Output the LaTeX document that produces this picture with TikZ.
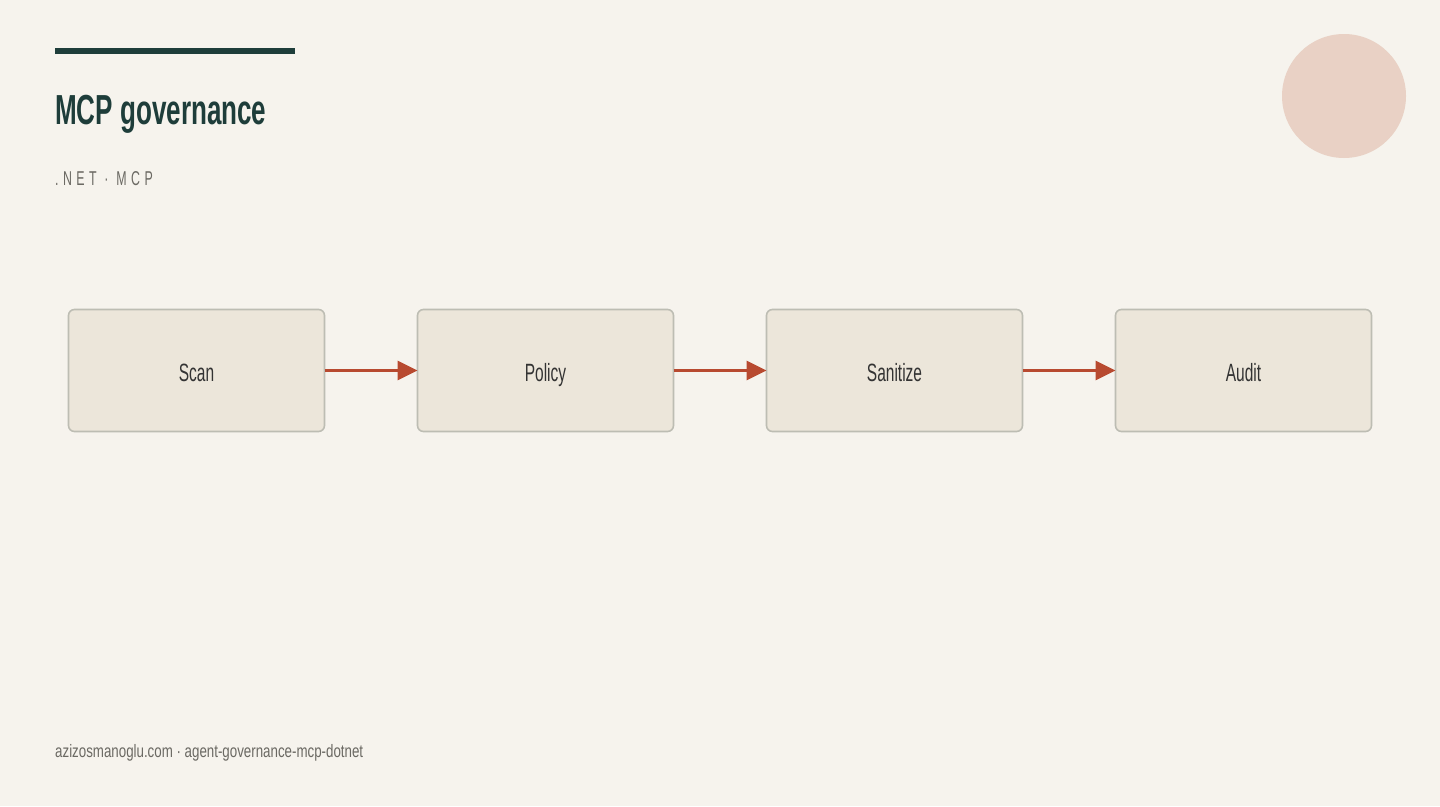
\documentclass[tikz,border=0pt]{standalone}
\usepackage{fontspec}
\usetikzlibrary{positioning,arrows.meta}
\setmainfont[FakeStretch=0.62]{Liberation Sans}
\newfontfamily\footfont[FakeStretch=0.74]{Liberation Sans}

\definecolor{paper}{HTML}{F6F3ED}
\definecolor{pine}{HTML}{1E3D3A}
\definecolor{stone}{HTML}{6B6963}
\definecolor{blush}{HTML}{E9D1C5}
\definecolor{boxfill}{HTML}{ECE6DA}
\definecolor{boxline}{HTML}{BDBDB3}
\definecolor{rust}{HTML}{B84A30}

\tikzset{
	stage/.style={draw=boxline, fill=boxfill, line width=1.6pt, rounded corners=6pt,
		minimum width=256pt, minimum height=122pt, inner sep=0pt, outer sep=0pt,
		text height=22pt, text depth=0pt,
		text=black!80, font=\fontsize{25}{25}\selectfont},
	flow/.style={draw=rust, line width=3pt, -{Triangle[length=20pt,width=19pt]}}
}

\begin{document}
\begin{tikzpicture}[x=1pt,y=-1pt]

	% Page
	\fill[paper] (0,0) rectangle (1440,806);
	\useasboundingbox (0,0) rectangle (1440,806);

	% Top bar
	\fill[pine] (55,48) rectangle (295,54);

	% Corner circle
	\fill[blush] (1344,96) circle (62);

	% Title and subtitle
	\node[anchor=base west, inner sep=0pt, text=pine, font=\bfseries\fontsize{42}{42}\selectfont] (title) at (55,124) {MCP governance};
	\node[anchor=base west, inner sep=0pt, text=stone, font=\fontsize{20}{20}\selectfont\addfontfeature{LetterSpace=22}] (sub) at (55,185) {.NET · MCP};

	% Stages
	\node[stage] (scan) at (196.5,370.5) {Scan};
	\node[stage, right=93pt of scan] (policy) {Policy};
	\node[stage, right=93pt of policy] (sanitize) {Sanitize};
	\node[stage, right=93pt of sanitize] (audit) {Audit};

	% Arrows
	\draw[flow] (scan) -- (policy);
	\draw[flow] (policy) -- (sanitize);
	\draw[flow] (sanitize) -- (audit);

	% Footer
	\node[anchor=base west, inner sep=0pt, text=stone, font=\footfont\fontsize{18}{18}\selectfont] (foot) at (55,757) {azizosmanoglu.com · agent-governance-mcp-dotnet};

\end{tikzpicture}
\end{document}
